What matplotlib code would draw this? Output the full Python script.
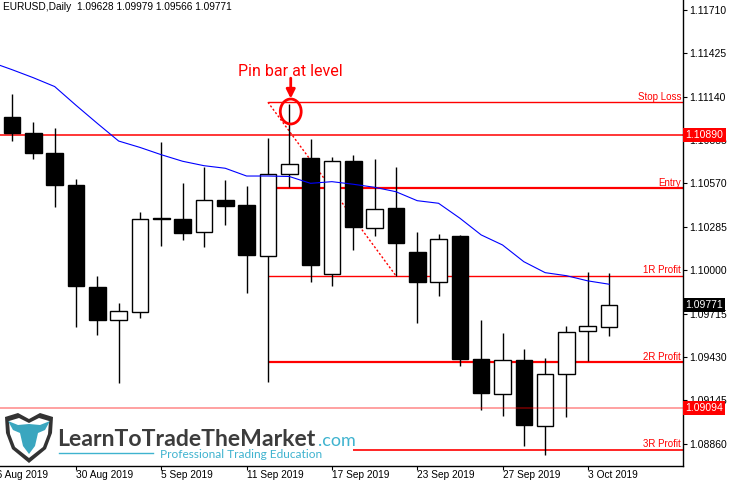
import matplotlib
matplotlib.use('Agg')
import matplotlib.pyplot as plt
from matplotlib.patches import Ellipse, Polygon
from matplotlib.transforms import blended_transform_factory

# daily EURUSD candles, 27 Aug .. 4 Oct 2019
opens = [1.11009, 1.10900, 1.10769, 1.10560, 1.09890, 1.09671, 1.09726, 1.10340,
         1.10335, 1.10253, 1.10464, 1.10429, 1.10092, 1.10631, 1.10736, 1.09976,
         1.10716, 1.10276, 1.10407, 1.10122, 1.09925, 1.10227, 1.09417, 1.09187,
         1.09409, 1.08977, 1.09319, 1.09599, 1.09628]
highs = [1.11156, 1.10976, 1.10933, 1.10598, 1.09964, 1.09783, 1.10381, 1.10845,
         1.10571, 1.10680, 1.10593, 1.10556, 1.10867, 1.11092, 1.10861, 1.10746,
         1.10755, 1.10731, 1.10677, 1.10253, 1.10238, 1.10232, 1.09673, 1.09586,
         1.09481, 1.09426, 1.09634, 1.09991, 1.09979]
lows = [1.10851, 1.10729, 1.10414, 1.09629, 1.09575, 1.09257, 1.09685, 1.10161,
        1.10199, 1.10151, 1.10297, 1.09849, 1.09268, 1.10549, 1.09925, 1.09897,
        1.10133, 1.10225, 1.09962, 1.09656, 1.09833, 1.09373, 1.09082, 1.09043,
        1.08846, 1.08788, 1.09038, 1.09406, 1.09566]
closes = [1.10900, 1.10772, 1.10560, 1.09897, 1.09673, 1.09730, 1.10335, 1.10338,
          1.10247, 1.10464, 1.10422, 1.10102, 1.10635, 1.10700, 1.10037, 1.10716,
          1.10286, 1.10401, 1.10181, 1.09921, 1.10204, 1.09419, 1.09192, 1.09409,
          1.08985, 1.09319, 1.09593, 1.09634, 1.09771]

# moving average (first value belongs to the bar left of the window)
ma_vals = [1.11368, 1.11318, 1.11265, 1.11207, 1.11084, 1.10965, 1.10849, 1.10807,
           1.10759, 1.10716, 1.10687, 1.10670, 1.10619, 1.10619, 1.10616, 1.10571,
           1.10582, 1.10565, 1.10545, 1.10516, 1.10457, 1.10440, 1.10342, 1.10232,
           1.10166, 1.10056, 1.09984, 1.09964, 1.09930, 1.09908]

date_ticks = [-1, 3, 7, 11, 15, 19, 23, 27]
date_labels = ['26 Aug 2019', '30 Aug 2019', '5 Sep 2019', '11 Sep 2019',
               '17 Sep 2019', '23 Sep 2019', '27 Sep 2019', '3 Oct 2019']
price_ticks = [1.11710, 1.11425, 1.11140, 1.10855, 1.10570, 1.10285,
               1.10000, 1.09715, 1.09430, 1.09145, 1.08860]

# trade levels
level_names = ['Stop Loss', 'Entry', '1R Profit', '2R Profit', '3R Profit']
level_values = [1.11104, 1.10539, 1.09964, 1.09395, 1.08819]
level_start = [12, 12, 12, 12, 16]
level_widths = [1.0, 1.6, 1.0, 1.6, 1.2]
resistance = 1.10890
support = 1.09094

TXT = 'Liberation Sans'
XMIN, XMAX = -0.5625, 31.44
YMIN, YMAX = 1.087135, 1.117757

fig = plt.figure(figsize=(7.29, 4.82), dpi=100)
ax = fig.add_axes([0, 1 - 466 / 482, 682.5 / 729, 466 / 482])

# candles
xs = list(range(len(opens)))
ax.vlines(xs, lows, highs, color='black', lw=1, zorder=2)
body_bottom = [min(o, c) for o, c in zip(opens, closes)]
body_height = [max(abs(c - o), 0.00001) for o, c in zip(opens, closes)]
fills = ['black' if c < o else 'white' for o, c in zip(opens, closes)]
ax.bar(xs, body_height, bottom=body_bottom, width=0.78, color=fills,
       edgecolor='black', lw=1, zorder=3)

ma_x = list(range(-1, len(ma_vals) - 1))
ax.plot(ma_x, ma_vals, color='#0000ff', lw=0.8, zorder=4)

# level lines
for name, val, start, lw in zip(level_names, level_values, level_start, level_widths):
    ax.hlines(val, start, XMAX, color='#ff0000', lw=lw, zorder=1)
    ax.text(31.38, val + 0.00004, name, color='#ff0000', fontsize=7, family=TXT,
            ha='right', va='bottom', zorder=5)
ax.hlines(resistance, XMIN, XMAX, color='#ff0000', lw=1.1, zorder=1)
ax.hlines(support, XMIN, XMAX, color='#ff0000', lw=1.3, alpha=0.4, zorder=5)

ax.plot([12, 18], [level_values[0], level_values[2]], color='#ff0000', lw=1,
        ls=(0, (1.5, 1.5)), zorder=1)

# pin bar annotation
ax.add_patch(Ellipse((13.07, 1.11043), 0.98, 0.00164, fill=False,
                     edgecolor='#ff0000', lw=2, zorder=6))
ax.annotate('', xy=(13.07, 1.11128), xytext=(13.07, 1.11262),
            arrowprops=dict(arrowstyle='-|>', color='#ff0000', lw=2,
                            mutation_scale=13, shrinkA=0, shrinkB=0), zorder=6)
ax.text(13.06, 1.11309, 'Pin bar at level', color='#ff0000', fontsize=11.5,
        ha='center', va='center', family='Roboto')

# axes styling
for side in ['left', 'top']:
    ax.spines[side].set_visible(False)
ax.spines['right'].set_linewidth(1)
ax.spines['bottom'].set_linewidth(1)
ax.yaxis.tick_right()
ax.set_yticks(price_ticks)
ax.set_yticklabels([f'{p:.5f}' for p in price_ticks], family=TXT, fontsize=7.5)
ax.tick_params(axis='y', length=3, pad=2, direction='out')
ax.set_xticks(date_ticks[1:])
ax.set_xticklabels(date_labels[1:], family=TXT, fontsize=7.3, ha='left')
ax.tick_params(axis='x', length=3, pad=0, direction='out')
ax.set_xlim(XMIN, XMAX)
ax.set_ylim(YMIN, YMAX)

# first date label sits left of the window and is cut by the figure edge
xlab = blended_transform_factory(ax.transData, ax.transAxes)
ax.text(date_ticks[0], -0.009, date_labels[0], transform=xlab, family=TXT,
        fontsize=7.3, ha='left', va='top', clip_on=False)

# price boxes on the right scale
tr = blended_transform_factory(ax.transAxes, ax.transData)
for val, txt, bg in [(resistance, '1.10890', '#ff0000'),
                     (1.09771, '1.09771', 'black'),
                     (support, '1.09094', '#ff0000')]:
    ax.text(1.0045, val, txt, transform=tr, color='white', fontsize=7.5, family=TXT,
            ha='left', va='center', clip_on=False, zorder=10,
            bbox=dict(facecolor=bg, edgecolor='none', boxstyle='square,pad=0.2'))

fig.text(3 / 729, 1 - 7 / 482, 'EURUSD,Daily  1.09628 1.09979 1.09566 1.09771',
         family=TXT, fontsize=7.3, va='center', ha='left')

# logo
def px(x, y):
    return (x / 729, 1 - y / 482)

shield = [(5, 417), (18, 413), (29, 419), (40, 413), (53, 417), (52, 433),
          (46, 449), (29, 463), (12, 449), (6, 433)]
inner = [(9, 421), (19, 418), (29, 423), (39, 418), (49, 421), (48, 434),
         (43, 447), (29, 458), (15, 447), (10, 434)]
head = [(8, 421), (18, 425), (29, 424), (40, 425), (50, 421), (45, 430),
        (38, 433), (35, 446), (29, 454), (23, 446), (20, 433), (13, 430)]
for poly, col in [(shield, '#333333'), (inner, 'white'), (head, '#3aa6bf')]:
    fig.patches.append(Polygon([px(*p) for p in poly], closed=True, facecolor=col,
                               edgecolor='none', transform=fig.transFigure, figure=fig))

fig.text(*px(57, 446), 'LearnToTradeTheMarket', color='#3c3c3c', fontsize=16.6,
         family='Lato', weight='bold', ha='left', va='baseline')
fig.text(*px(318, 446), '.com', color='#3fb3cf', fontsize=13, family='Lato',
         ha='left', va='baseline')
fig.text(*px(160, 458), 'Professional Trading Education', color='#3fb3cf',
         fontsize=8.6, family='Lato', ha='left', va='baseline')
fig.lines.append(plt.Line2D([59 / 729, 153 / 729], [1 - 453 / 482] * 2,
                            color='#3fb3cf', lw=1, transform=fig.transFigure))

fig.savefig('out.png', dpi=100)
